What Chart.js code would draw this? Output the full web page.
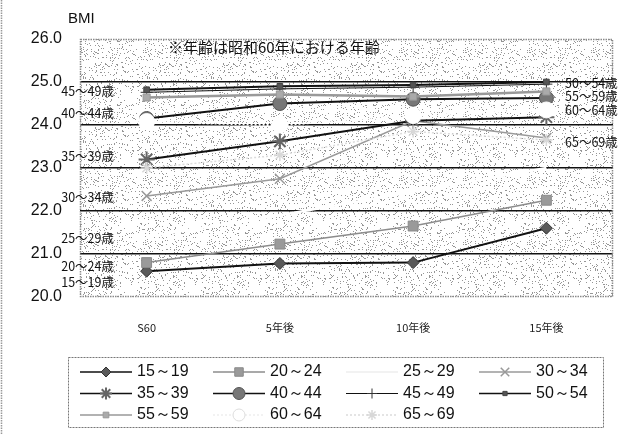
<!DOCTYPE html>
<html>
<head>
<meta charset="utf-8">
<script src="https://cdn.jsdelivr.net/npm/chart.js@4/dist/chart.umd.min.js"></script>
<style>
  html, body { margin: 0; padding: 0; background: #fff; }
  #wrap { width: 635px; height: 434px; position: relative; }
</style>
</head>
<body>
<div id="wrap"><canvas id="c" width="635" height="434"></canvas></div>
<script>
// Survey points (cohort followed from Showa 60)
const categories = ['S60', '5年後', '10年後', '15年後'];

// Age groups (age in Showa 60)
const ageGroups = ['15～19', '20～24', '25～29', '30～34', '35～39', '40～44',
                   '45～49', '50～54', '55～59', '60～64', '65～69'];

// Mean BMI per cohort at each survey point
const bmi15to19 = [20.60, 20.78, 20.80, 21.60];
const bmi20to24 = [20.80, 21.23, 21.65, 22.25];
const bmi25to29 = [21.40, 21.90, 22.45, 23.00];
const bmi30to34 = [22.35, 22.75, 24.10, 23.70];
const bmi35to39 = [23.20, 23.62, 24.10, 24.18];
const bmi40to44 = [24.15, 24.50, 24.60, 24.63];
const bmi45to49 = [24.76, 24.84, 24.88, 24.95];
const bmi50to54 = [24.82, 24.90, 24.93, 25.00];
const bmi55to59 = [24.64, 24.71, 24.66, 24.78];
const bmi60to64 = [24.08, 24.00, 24.22, 24.35];
const bmi65to69 = [23.00, 23.30, 23.85, 23.65];

// Y-axis range and ticks
const yMin = 20, yMax = 26, yStep = 1;

const seriesValues = [bmi15to19, bmi20to24, bmi25to29, bmi30to34, bmi35to39, bmi40to44,
                      bmi45to49, bmi50to54, bmi55to59, bmi60to64, bmi65to69];

// Line / marker look of each age group
const looks = [
  { line: '#111', w: 2,   dash: [],     pt: 'rectRot',  r: 6, fill: '#5a5a5a', edge: '#333', bw: 1 },
  { line: '#8c8c8c', w: 1.5, dash: [],  pt: 'rect',     r: 7, fill: '#9a9a9a', edge: '#8a8a8a', bw: 1 },
  { line: '#ffffff', w: 2.5, dash: [],  pt: false,      r: 0, fill: '#fff', edge: '#fff', bw: 0 },
  { line: '#9a9a9a', w: 1.5, dash: [],  pt: 'crossRot', r: 7, fill: '#999', edge: '#999', bw: 1.5 },
  { line: '#111', w: 2,   dash: [],     pt: 'star',     r: 8, fill: '#666', edge: '#666', bw: 2 },
  { line: '#111', w: 2,   dash: [],     pt: 'circle',   r: 7, fill: '#777', edge: '#555', bw: 1 },
  { line: '#111', w: 1,   dash: [],     pt: 'cross',    r: 6, fill: '#333', edge: '#333', bw: 1 },
  { line: '#111', w: 2,   dash: [],     pt: 'rect',     r: 4, fill: '#555', edge: '#444', bw: 1 },
  { line: '#999', w: 2.5, dash: [],     pt: 'rect',     r: 5, fill: '#aaa', edge: '#999', bw: 1 },
  { line: '#ffffff', w: 2.5, dash: [2, 2], pt: 'circle', r: 8, fill: '#fff', edge: '#fff', bw: 1 },
  { line: '#dcdcdc', w: 1.5, dash: [2, 2], pt: 'star',  r: 6, fill: '#e0e0e0', edge: '#d8d8d8', bw: 1.5 }
];

// Age labels beside the line ends (value on the y scale where each label sits)
const leftTags = [
  { text: '45～49歳', at: 24.78 }, { text: '40～44歳', at: 24.27 },
  { text: '35～39歳', at: 23.28 }, { text: '30～34歳', at: 22.33 },
  { text: '25～29歳', at: 21.37 }, { text: '20～24歳', at: 20.72 },
  { text: '15～19歳', at: 20.35 }
];
const rightTags = [
  { text: '50～54歳', at: 24.98 }, { text: '55～59歳', at: 24.67 },
  { text: '60～64歳', at: 24.35 }, { text: '65～69歳', at: 23.60 }
];

const JP = '"Noto Sans CJK JP", "Noto Sans", sans-serif';
const LAT = '"Liberation Sans", Arial, sans-serif';

// Dotted paper texture for the plot area (deterministic hash dither)
function makeStipple() {
  const n = 64;
  const c = document.createElement('canvas');
  c.width = n; c.height = n;
  const g = c.getContext('2d');
  const img = g.createImageData(n, n);
  for (let y = 0; y < n; y++) {
    for (let x = 0; x < n; x++) {
      let h = (Math.imul(x, 374761393) + Math.imul(y, 668265263)) >>> 0;
      h = Math.imul(h ^ (h >>> 13), 1274126177) >>> 0;
      h = (h ^ (h >>> 16)) >>> 0;
      const v = (h % 100) < 9 ? 150 : 255;
      const i = (y * n + x) * 4;
      img.data[i] = img.data[i + 1] = img.data[i + 2] = v;
      img.data[i + 3] = 255;
    }
  }
  g.putImageData(img, 0, 0);
  return c;
}

const plotDecor = {
  id: 'plotDecor',
  beforeDraw(chart) {
    const { ctx, chartArea: a } = chart;
    ctx.save();
    ctx.fillStyle = ctx.createPattern(makeStipple(), 'repeat');
    ctx.fillRect(a.left, a.top, a.right - a.left, a.bottom - a.top);
    ctx.restore();
  },
  afterDraw(chart) {
    const { ctx, chartArea: a, scales } = chart;
    const y = scales.y;
    ctx.save();
    // plot frame
    ctx.strokeStyle = '#8a8a8a';
    ctx.lineWidth = 1.5;
    ctx.setLineDash([1.5, 1]);
    ctx.strokeRect(a.left + 0.5, a.top + 0.5, a.right - a.left - 1, a.bottom - a.top - 1);
    // page edge at the left
    ctx.beginPath();
    ctx.moveTo(1.5, 0); ctx.lineTo(1.5, 434);
    ctx.strokeStyle = '#999';
    ctx.stroke();
    ctx.setLineDash([]);

    // axis title
    ctx.fillStyle = '#111';
    ctx.font = '15px ' + LAT;
    ctx.textBaseline = 'middle';
    ctx.textAlign = 'left';
    ctx.fillText('BMI', 68, 19);

    // note inside the plot
    ctx.font = '15px ' + JP;
    ctx.fillText('※年齢は昭和60年における年齢', 168, 47);

    // age tags
    ctx.font = '12.5px ' + JP;
    ctx.textAlign = 'right';
    leftTags.forEach(t => ctx.fillText(t.text, 114, y.getPixelForValue(t.at)));
    ctx.textAlign = 'left';
    rightTags.forEach(t => ctx.fillText(t.text, 565, y.getPixelForValue(t.at)));

    // legend box
    const bx = 68, by = 357, bw = 535, bh = 70;
    ctx.strokeStyle = '#777';
    ctx.lineWidth = 1;
    ctx.setLineDash([2, 1]);
    ctx.strokeRect(bx + 0.5, by + 0.5, bw, bh);
    ctx.setLineDash([]);
    chart.data.datasets.forEach((ds, i) => {
      const col = i % 4, row = Math.floor(i / 4);
      const x0 = 80 + col * 133, yy = 372 + row * 21.5;
      ctx.save();
      ctx.beginPath();
      ctx.moveTo(x0, yy); ctx.lineTo(x0 + 52, yy);
      ctx.strokeStyle = ds.borderColor === '#ffffff' ? '#eee' : ds.borderColor;
      ctx.lineWidth = Math.min(ds.borderWidth, 1.5);
      ctx.setLineDash(ds.borderDash || []);
      ctx.stroke();
      ctx.setLineDash([]);
      if (ds.pointStyle) {
        ctx.fillStyle = ds.pointBackgroundColor;
        ctx.strokeStyle = ds.pointBorderColor === '#fff' ? '#ddd' : ds.pointBorderColor;
        ctx.lineWidth = ds.pointBorderWidth;
        Chart.helpers.drawPoint(ctx, {
          pointStyle: ds.pointStyle, radius: Math.min(Math.max(ds.pointRadius - 1, 3), 6),
          rotation: 0, borderWidth: ds.pointBorderWidth
        }, x0 + 26, yy);
      }
      ctx.restore();
      ctx.fillStyle = '#111';
      ctx.font = '16px ' + LAT;
      ctx.textAlign = 'left';
      ctx.textBaseline = 'middle';
      ctx.fillText(ds.label, x0 + 57, yy);
    });
    ctx.restore();
  }
};

const datasets = ageGroups.map((name, i) => {
  const k = looks[i];
  return {
    label: name,
    data: seriesValues[i],
    borderColor: k.line,
    borderWidth: k.w,
    borderDash: k.dash,
    pointStyle: k.pt,
    pointRadius: k.r,
    pointBackgroundColor: k.fill,
    pointBorderColor: k.edge,
    pointBorderWidth: k.bw,
    tension: 0,
    fill: false,
    order: ageGroups.length - i
  };
});

new Chart(document.getElementById('c'), {
  type: 'line',
  data: { labels: categories, datasets },
  plugins: [plotDecor],
  options: {
    responsive: false,
    animation: false,
    events: [],
    layout: { padding: { left: 0, right: 22, top: 39, bottom: 97 } },
    plugins: { legend: { display: false }, tooltip: { enabled: false } },
    scales: {
      x: {
        offset: true,
        grid: { display: false },
        border: { display: false },
        ticks: { color: '#222', font: { family: JP, size: 11 }, padding: 16 },
        afterFit(s) { s.height = 40; }
      },
      y: {
        min: yMin, max: yMax,
        border: { display: false },
        grid: {
          drawTicks: false,
          lineWidth: 1.5,
          color: c => (c.tick && (c.tick.value === yMin || c.tick.value === yMax)) ? 'rgba(0,0,0,0)' : '#111'
        },
        ticks: {
          stepSize: yStep,
          color: '#111',
          padding: 18,
          font: { family: LAT, size: 16 },
          callback: v => Number(v).toFixed(1)
        },
        afterFit(s) { s.width = 80; }
      }
    }
  }
});
</script>
</body>
</html>
